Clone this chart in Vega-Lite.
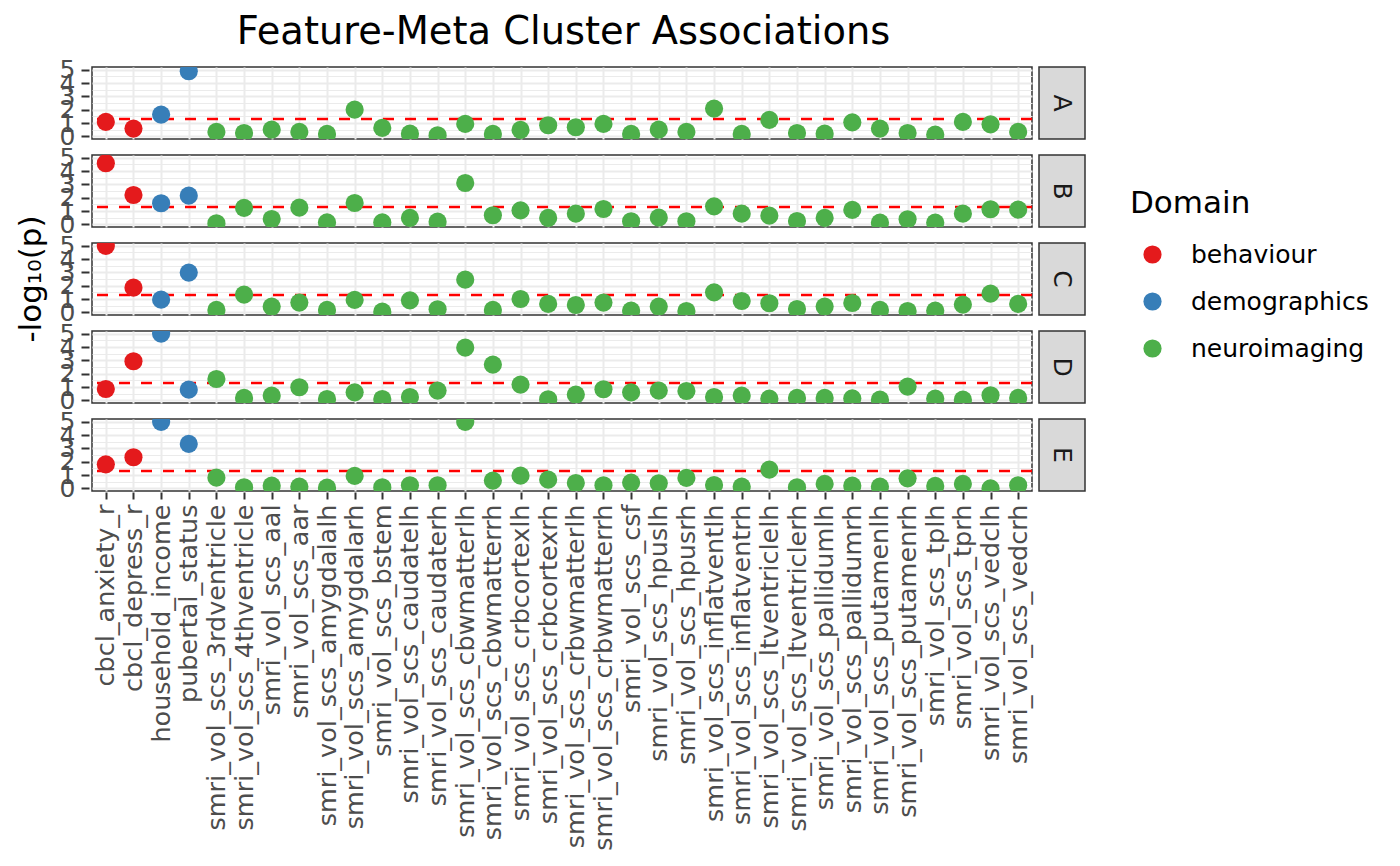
{
"$schema": "https://vega.github.io/schema/vega-lite/v6.json",
"padding": {"left": 15, "top": 13, "right": 5, "bottom": 5},
"background": "white",
"title": {"text": "Feature-Meta Cluster Associations", "fontSize": 38.4, "font": "DejaVu Sans", "fontWeight": "normal", "color": "#000000", "anchor": "middle", "offset": 5, "dx": -129},
"config": {
  "font": "DejaVu Sans",
  "view": {"stroke": "#333333", "strokeWidth": 1.5}
},
"datasets": {
"strips": [{"cluster":"A"},{"cluster":"B"},{"cluster":"C"},{"cluster":"D"},{"cluster":"E"}],
"assoc": [
{"cluster":"A","feature":"cbcl_anxiety_r","domain":"behaviour","value":1.08},
{"cluster":"A","feature":"cbcl_depress_r","domain":"behaviour","value":0.58},
{"cluster":"A","feature":"household_income","domain":"demographics","value":1.63},
{"cluster":"A","feature":"pubertal_status","domain":"demographics","value":4.88},
{"cluster":"A","feature":"smri_vol_scs_3rdventricle","domain":"neuroimaging","value":0.33},
{"cluster":"A","feature":"smri_vol_scs_4thventricle","domain":"neuroimaging","value":0.25},
{"cluster":"A","feature":"smri_vol_scs_aal","domain":"neuroimaging","value":0.5},
{"cluster":"A","feature":"smri_vol_scs_aar","domain":"neuroimaging","value":0.33},
{"cluster":"A","feature":"smri_vol_scs_amygdalalh","domain":"neuroimaging","value":0.18},
{"cluster":"A","feature":"smri_vol_scs_amygdalarh","domain":"neuroimaging","value":2.0},
{"cluster":"A","feature":"smri_vol_scs_bstem","domain":"neuroimaging","value":0.63},
{"cluster":"A","feature":"smri_vol_scs_caudatelh","domain":"neuroimaging","value":0.2},
{"cluster":"A","feature":"smri_vol_scs_caudaterh","domain":"neuroimaging","value":0.08},
{"cluster":"A","feature":"smri_vol_scs_cbwmatterlh","domain":"neuroimaging","value":0.93},
{"cluster":"A","feature":"smri_vol_scs_cbwmatterrh","domain":"neuroimaging","value":0.18},
{"cluster":"A","feature":"smri_vol_scs_crbcortexlh","domain":"neuroimaging","value":0.48},
{"cluster":"A","feature":"smri_vol_scs_crbcortexrh","domain":"neuroimaging","value":0.83},
{"cluster":"A","feature":"smri_vol_scs_crbwmatterlh","domain":"neuroimaging","value":0.68},
{"cluster":"A","feature":"smri_vol_scs_crbwmatterrh","domain":"neuroimaging","value":0.93},
{"cluster":"A","feature":"smri_vol_scs_csf","domain":"neuroimaging","value":0.18},
{"cluster":"A","feature":"smri_vol_scs_hpuslh","domain":"neuroimaging","value":0.5},
{"cluster":"A","feature":"smri_vol_scs_hpusrh","domain":"neuroimaging","value":0.33},
{"cluster":"A","feature":"smri_vol_scs_inflatventlh","domain":"neuroimaging","value":2.08},
{"cluster":"A","feature":"smri_vol_scs_inflatventrh","domain":"neuroimaging","value":0.18},
{"cluster":"A","feature":"smri_vol_scs_ltventriclelh","domain":"neuroimaging","value":1.23},
{"cluster":"A","feature":"smri_vol_scs_ltventriclerh","domain":"neuroimaging","value":0.25},
{"cluster":"A","feature":"smri_vol_scs_pallidumlh","domain":"neuroimaging","value":0.2},
{"cluster":"A","feature":"smri_vol_scs_pallidumrh","domain":"neuroimaging","value":1.05},
{"cluster":"A","feature":"smri_vol_scs_putamenlh","domain":"neuroimaging","value":0.58},
{"cluster":"A","feature":"smri_vol_scs_putamenrh","domain":"neuroimaging","value":0.25},
{"cluster":"A","feature":"smri_vol_scs_tplh","domain":"neuroimaging","value":0.13},
{"cluster":"A","feature":"smri_vol_scs_tprh","domain":"neuroimaging","value":1.08},
{"cluster":"A","feature":"smri_vol_scs_vedclh","domain":"neuroimaging","value":0.9},
{"cluster":"A","feature":"smri_vol_scs_vedcrh","domain":"neuroimaging","value":0.33},
{"cluster":"B","feature":"cbcl_anxiety_r","domain":"behaviour","value":4.58},
{"cluster":"B","feature":"cbcl_depress_r","domain":"behaviour","value":2.2},
{"cluster":"B","feature":"household_income","domain":"demographics","value":1.58},
{"cluster":"B","feature":"pubertal_status","domain":"demographics","value":2.15},
{"cluster":"B","feature":"smri_vol_scs_3rdventricle","domain":"neuroimaging","value":0.08},
{"cluster":"B","feature":"smri_vol_scs_4thventricle","domain":"neuroimaging","value":1.23},
{"cluster":"B","feature":"smri_vol_scs_aal","domain":"neuroimaging","value":0.4},
{"cluster":"B","feature":"smri_vol_scs_aar","domain":"neuroimaging","value":1.25},
{"cluster":"B","feature":"smri_vol_scs_amygdalalh","domain":"neuroimaging","value":0.15},
{"cluster":"B","feature":"smri_vol_scs_amygdalarh","domain":"neuroimaging","value":1.6},
{"cluster":"B","feature":"smri_vol_scs_bstem","domain":"neuroimaging","value":0.15},
{"cluster":"B","feature":"smri_vol_scs_caudatelh","domain":"neuroimaging","value":0.48},
{"cluster":"B","feature":"smri_vol_scs_caudaterh","domain":"neuroimaging","value":0.2},
{"cluster":"B","feature":"smri_vol_scs_cbwmatterlh","domain":"neuroimaging","value":3.1},
{"cluster":"B","feature":"smri_vol_scs_cbwmatterrh","domain":"neuroimaging","value":0.68},
{"cluster":"B","feature":"smri_vol_scs_crbcortexlh","domain":"neuroimaging","value":1.05},
{"cluster":"B","feature":"smri_vol_scs_crbcortexrh","domain":"neuroimaging","value":0.48},
{"cluster":"B","feature":"smri_vol_scs_crbwmatterlh","domain":"neuroimaging","value":0.8},
{"cluster":"B","feature":"smri_vol_scs_crbwmatterrh","domain":"neuroimaging","value":1.15},
{"cluster":"B","feature":"smri_vol_scs_csf","domain":"neuroimaging","value":0.23},
{"cluster":"B","feature":"smri_vol_scs_hpuslh","domain":"neuroimaging","value":0.5},
{"cluster":"B","feature":"smri_vol_scs_hpusrh","domain":"neuroimaging","value":0.23},
{"cluster":"B","feature":"smri_vol_scs_inflatventlh","domain":"neuroimaging","value":1.35},
{"cluster":"B","feature":"smri_vol_scs_inflatventrh","domain":"neuroimaging","value":0.8},
{"cluster":"B","feature":"smri_vol_scs_ltventriclelh","domain":"neuroimaging","value":0.65},
{"cluster":"B","feature":"smri_vol_scs_ltventriclerh","domain":"neuroimaging","value":0.25},
{"cluster":"B","feature":"smri_vol_scs_pallidumlh","domain":"neuroimaging","value":0.48},
{"cluster":"B","feature":"smri_vol_scs_pallidumrh","domain":"neuroimaging","value":1.08},
{"cluster":"B","feature":"smri_vol_scs_putamenlh","domain":"neuroimaging","value":0.13},
{"cluster":"B","feature":"smri_vol_scs_putamenrh","domain":"neuroimaging","value":0.38},
{"cluster":"B","feature":"smri_vol_scs_tplh","domain":"neuroimaging","value":0.13},
{"cluster":"B","feature":"smri_vol_scs_tprh","domain":"neuroimaging","value":0.8},
{"cluster":"B","feature":"smri_vol_scs_vedclh","domain":"neuroimaging","value":1.13},
{"cluster":"B","feature":"smri_vol_scs_vedcrh","domain":"neuroimaging","value":1.1},
{"cluster":"C","feature":"cbcl_anxiety_r","domain":"behaviour","value":4.98},
{"cluster":"C","feature":"cbcl_depress_r","domain":"behaviour","value":1.85},
{"cluster":"C","feature":"household_income","domain":"demographics","value":0.95},
{"cluster":"C","feature":"pubertal_status","domain":"demographics","value":2.98},
{"cluster":"C","feature":"smri_vol_scs_3rdventricle","domain":"neuroimaging","value":0.18},
{"cluster":"C","feature":"smri_vol_scs_4thventricle","domain":"neuroimaging","value":1.33},
{"cluster":"C","feature":"smri_vol_scs_aal","domain":"neuroimaging","value":0.43},
{"cluster":"C","feature":"smri_vol_scs_aar","domain":"neuroimaging","value":0.73},
{"cluster":"C","feature":"smri_vol_scs_amygdalalh","domain":"neuroimaging","value":0.18},
{"cluster":"C","feature":"smri_vol_scs_amygdalarh","domain":"neuroimaging","value":0.93},
{"cluster":"C","feature":"smri_vol_scs_bstem","domain":"neuroimaging","value":0.05},
{"cluster":"C","feature":"smri_vol_scs_caudatelh","domain":"neuroimaging","value":0.9},
{"cluster":"C","feature":"smri_vol_scs_caudaterh","domain":"neuroimaging","value":0.23},
{"cluster":"C","feature":"smri_vol_scs_cbwmatterlh","domain":"neuroimaging","value":2.45},
{"cluster":"C","feature":"smri_vol_scs_cbwmatterrh","domain":"neuroimaging","value":0.18},
{"cluster":"C","feature":"smri_vol_scs_crbcortexlh","domain":"neuroimaging","value":1.0},
{"cluster":"C","feature":"smri_vol_scs_crbcortexrh","domain":"neuroimaging","value":0.63},
{"cluster":"C","feature":"smri_vol_scs_crbwmatterlh","domain":"neuroimaging","value":0.55},
{"cluster":"C","feature":"smri_vol_scs_crbwmatterrh","domain":"neuroimaging","value":0.73},
{"cluster":"C","feature":"smri_vol_scs_csf","domain":"neuroimaging","value":0.13},
{"cluster":"C","feature":"smri_vol_scs_hpuslh","domain":"neuroimaging","value":0.43},
{"cluster":"C","feature":"smri_vol_scs_hpusrh","domain":"neuroimaging","value":0.1},
{"cluster":"C","feature":"smri_vol_scs_inflatventlh","domain":"neuroimaging","value":1.5},
{"cluster":"C","feature":"smri_vol_scs_inflatventrh","domain":"neuroimaging","value":0.85},
{"cluster":"C","feature":"smri_vol_scs_ltventriclelh","domain":"neuroimaging","value":0.68},
{"cluster":"C","feature":"smri_vol_scs_ltventriclerh","domain":"neuroimaging","value":0.25},
{"cluster":"C","feature":"smri_vol_scs_pallidumlh","domain":"neuroimaging","value":0.43},
{"cluster":"C","feature":"smri_vol_scs_pallidumrh","domain":"neuroimaging","value":0.7},
{"cluster":"C","feature":"smri_vol_scs_putamenlh","domain":"neuroimaging","value":0.18},
{"cluster":"C","feature":"smri_vol_scs_putamenrh","domain":"neuroimaging","value":0.1},
{"cluster":"C","feature":"smri_vol_scs_tplh","domain":"neuroimaging","value":0.13},
{"cluster":"C","feature":"smri_vol_scs_tprh","domain":"neuroimaging","value":0.58},
{"cluster":"C","feature":"smri_vol_scs_vedclh","domain":"neuroimaging","value":1.4},
{"cluster":"C","feature":"smri_vol_scs_vedcrh","domain":"neuroimaging","value":0.63},
{"cluster":"D","feature":"cbcl_anxiety_r","domain":"behaviour","value":0.85},
{"cluster":"D","feature":"cbcl_depress_r","domain":"behaviour","value":2.93},
{"cluster":"D","feature":"household_income","domain":"demographics","value":5.0},
{"cluster":"D","feature":"pubertal_status","domain":"demographics","value":0.8},
{"cluster":"D","feature":"smri_vol_scs_3rdventricle","domain":"neuroimaging","value":1.6},
{"cluster":"D","feature":"smri_vol_scs_4thventricle","domain":"neuroimaging","value":0.18},
{"cluster":"D","feature":"smri_vol_scs_aal","domain":"neuroimaging","value":0.35},
{"cluster":"D","feature":"smri_vol_scs_aar","domain":"neuroimaging","value":0.98},
{"cluster":"D","feature":"smri_vol_scs_amygdalalh","domain":"neuroimaging","value":0.1},
{"cluster":"D","feature":"smri_vol_scs_amygdalarh","domain":"neuroimaging","value":0.6},
{"cluster":"D","feature":"smri_vol_scs_bstem","domain":"neuroimaging","value":0.1},
{"cluster":"D","feature":"smri_vol_scs_caudatelh","domain":"neuroimaging","value":0.25},
{"cluster":"D","feature":"smri_vol_scs_caudaterh","domain":"neuroimaging","value":0.73},
{"cluster":"D","feature":"smri_vol_scs_cbwmatterlh","domain":"neuroimaging","value":3.95},
{"cluster":"D","feature":"smri_vol_scs_cbwmatterrh","domain":"neuroimaging","value":2.68},
{"cluster":"D","feature":"smri_vol_scs_crbcortexlh","domain":"neuroimaging","value":1.18},
{"cluster":"D","feature":"smri_vol_scs_crbcortexrh","domain":"neuroimaging","value":0.08},
{"cluster":"D","feature":"smri_vol_scs_crbwmatterlh","domain":"neuroimaging","value":0.43},
{"cluster":"D","feature":"smri_vol_scs_crbwmatterrh","domain":"neuroimaging","value":0.83},
{"cluster":"D","feature":"smri_vol_scs_csf","domain":"neuroimaging","value":0.6},
{"cluster":"D","feature":"smri_vol_scs_hpuslh","domain":"neuroimaging","value":0.73},
{"cluster":"D","feature":"smri_vol_scs_hpusrh","domain":"neuroimaging","value":0.7},
{"cluster":"D","feature":"smri_vol_scs_inflatventlh","domain":"neuroimaging","value":0.25},
{"cluster":"D","feature":"smri_vol_scs_inflatventrh","domain":"neuroimaging","value":0.35},
{"cluster":"D","feature":"smri_vol_scs_ltventriclelh","domain":"neuroimaging","value":0.13},
{"cluster":"D","feature":"smri_vol_scs_ltventriclerh","domain":"neuroimaging","value":0.18},
{"cluster":"D","feature":"smri_vol_scs_pallidumlh","domain":"neuroimaging","value":0.18},
{"cluster":"D","feature":"smri_vol_scs_pallidumrh","domain":"neuroimaging","value":0.15},
{"cluster":"D","feature":"smri_vol_scs_putamenlh","domain":"neuroimaging","value":0.05},
{"cluster":"D","feature":"smri_vol_scs_putamenrh","domain":"neuroimaging","value":1.03},
{"cluster":"D","feature":"smri_vol_scs_tplh","domain":"neuroimaging","value":0.13},
{"cluster":"D","feature":"smri_vol_scs_tprh","domain":"neuroimaging","value":0.05},
{"cluster":"D","feature":"smri_vol_scs_vedclh","domain":"neuroimaging","value":0.38},
{"cluster":"D","feature":"smri_vol_scs_vedcrh","domain":"neuroimaging","value":0.18},
{"cluster":"E","feature":"cbcl_anxiety_r","domain":"behaviour","value":1.8},
{"cluster":"E","feature":"cbcl_depress_r","domain":"behaviour","value":2.33},
{"cluster":"E","feature":"household_income","domain":"demographics","value":4.98},
{"cluster":"E","feature":"pubertal_status","domain":"demographics","value":3.33},
{"cluster":"E","feature":"smri_vol_scs_3rdventricle","domain":"neuroimaging","value":0.8},
{"cluster":"E","feature":"smri_vol_scs_4thventricle","domain":"neuroimaging","value":0.08},
{"cluster":"E","feature":"smri_vol_scs_aal","domain":"neuroimaging","value":0.2},
{"cluster":"E","feature":"smri_vol_scs_aar","domain":"neuroimaging","value":0.13},
{"cluster":"E","feature":"smri_vol_scs_amygdalalh","domain":"neuroimaging","value":0.05},
{"cluster":"E","feature":"smri_vol_scs_amygdalarh","domain":"neuroimaging","value":0.93},
{"cluster":"E","feature":"smri_vol_scs_bstem","domain":"neuroimaging","value":0.08},
{"cluster":"E","feature":"smri_vol_scs_caudatelh","domain":"neuroimaging","value":0.23},
{"cluster":"E","feature":"smri_vol_scs_caudaterh","domain":"neuroimaging","value":0.23},
{"cluster":"E","feature":"smri_vol_scs_cbwmatterlh","domain":"neuroimaging","value":4.98},
{"cluster":"E","feature":"smri_vol_scs_cbwmatterrh","domain":"neuroimaging","value":0.58},
{"cluster":"E","feature":"smri_vol_scs_crbcortexlh","domain":"neuroimaging","value":0.95},
{"cluster":"E","feature":"smri_vol_scs_crbcortexrh","domain":"neuroimaging","value":0.65},
{"cluster":"E","feature":"smri_vol_scs_crbwmatterlh","domain":"neuroimaging","value":0.4},
{"cluster":"E","feature":"smri_vol_scs_crbwmatterrh","domain":"neuroimaging","value":0.23},
{"cluster":"E","feature":"smri_vol_scs_csf","domain":"neuroimaging","value":0.43},
{"cluster":"E","feature":"smri_vol_scs_hpuslh","domain":"neuroimaging","value":0.38},
{"cluster":"E","feature":"smri_vol_scs_hpusrh","domain":"neuroimaging","value":0.78},
{"cluster":"E","feature":"smri_vol_scs_inflatventlh","domain":"neuroimaging","value":0.25},
{"cluster":"E","feature":"smri_vol_scs_inflatventrh","domain":"neuroimaging","value":0.13},
{"cluster":"E","feature":"smri_vol_scs_ltventriclelh","domain":"neuroimaging","value":1.4},
{"cluster":"E","feature":"smri_vol_scs_ltventriclerh","domain":"neuroimaging","value":0.08},
{"cluster":"E","feature":"smri_vol_scs_pallidumlh","domain":"neuroimaging","value":0.33},
{"cluster":"E","feature":"smri_vol_scs_pallidumrh","domain":"neuroimaging","value":0.2},
{"cluster":"E","feature":"smri_vol_scs_putamenlh","domain":"neuroimaging","value":0.13},
{"cluster":"E","feature":"smri_vol_scs_putamenrh","domain":"neuroimaging","value":0.75},
{"cluster":"E","feature":"smri_vol_scs_tplh","domain":"neuroimaging","value":0.18},
{"cluster":"E","feature":"smri_vol_scs_tprh","domain":"neuroimaging","value":0.33},
{"cluster":"E","feature":"smri_vol_scs_vedclh","domain":"neuroimaging","value":0.0},
{"cluster":"E","feature":"smri_vol_scs_vedcrh","domain":"neuroimaging","value":0.23}
]
},
"hconcat": [
{
  "data": {"name": "assoc"},
  "facet": {"row": {"field": "cluster", "type": "nominal", "header": {"title": "-log₁₀(p)", "titleOrient": "left", "titleFontSize": 31, "titleFont": "DejaVu Sans", "titleFontWeight": "normal", "titleColor": "#000000", "labels": false, "titlePadding": 1}}},
  "spacing": {"row": 14},
  "spec": {
    "width": 940,
    "height": 72,
    "layer": [
      {
        "transform": [{"aggregate": [{"op": "count", "as": "n"}], "groupby": ["cluster"]}],
        "mark": {"type": "rule", "color": "#FF0000", "strokeWidth": 2.7, "strokeDash": [11, 11]},
        "encoding": {"y": {"datum": 1.30103, "type": "quantitative", "title": null, "scale": {"domain": [-0.2, 5.2], "nice": false, "zero": false},
            "axis": {"values": [0, 0.5, 1, 1.5, 2, 2.5, 3, 3.5, 4, 4.5, 5], "domain": false, "grid": true, "gridColor": "#EBEBEB",
              "gridWidth": {"condition": {"test": "datum.value % 1 === 0", "value": 2}, "value": 1},
              "tickSize": 8, "tickWidth": 2, "tickColor": "#333333",
              "tickOpacity": {"condition": {"test": "datum.value % 1 === 0", "value": 1}, "value": 0},
              "labelExpr": "datum.value % 1 === 0 ? format(datum.value, 'd') : ''",
              "labelFontSize": 25, "labelColor": "#4D4D4D", "labelPadding": 6, "labelOverlap": false, "labelFont": "DejaVu Sans"}}}
      },
      {
        "mark": {"type": "circle", "size": 330, "opacity": 1, "clip": true},
        "encoding": {
          "x": {"field": "feature", "type": "nominal", "title": null, "scale": {"padding": 0.5},
            "axis": {"domain": false, "grid": true, "gridColor": "#EBEBEB", "gridWidth": 2, "tickSize": 7, "tickWidth": 2, "tickColor": "#333333", "labelAngle": -90, "labelAlign": "right", "labelBaseline": "middle", "labelFontSize": 25.5, "labelColor": "#4D4D4D", "labelPadding": 5, "labelOverlap": false, "labelLimit": 0, "labelFont": "DejaVu Sans"}},
          "y": {"field": "value", "type": "quantitative", "title": null, "scale": {"domain": [-0.2, 5.2], "nice": false, "zero": false},
            "axis": {"values": [0, 0.5, 1, 1.5, 2, 2.5, 3, 3.5, 4, 4.5, 5], "domain": false, "grid": true, "gridColor": "#EBEBEB",
              "gridWidth": {"condition": {"test": "datum.value % 1 === 0", "value": 2}, "value": 1},
              "tickSize": 8, "tickWidth": 2, "tickColor": "#333333",
              "tickOpacity": {"condition": {"test": "datum.value % 1 === 0", "value": 1}, "value": 0},
              "labelExpr": "datum.value % 1 === 0 ? format(datum.value, 'd') : ''",
              "labelFontSize": 25, "labelColor": "#4D4D4D", "labelPadding": 6, "labelOverlap": false, "labelFont": "DejaVu Sans"}},
          "color": {"field": "domain", "type": "nominal",
            "scale": {"domain": ["behaviour", "demographics", "neuroimaging"], "range": ["#E41A1C", "#377EB8", "#4DAF4A"]},
            "legend": {"title": "Domain", "orient": "none", "legendX": 1038, "legendY": 122, "padding": 0,
              "titleFontSize": 31, "titleFontWeight": "normal", "titleColor": "#000000", "titleFont": "DejaVu Sans", "titlePadding": 22,
              "labelFontSize": 25, "labelColor": "#000000", "labelFont": "DejaVu Sans", "labelOffset": 26, "labelLimit": 0,
              "symbolType": "circle", "symbolSize": 330, "symbolStrokeWidth": 0, "symbolOpacity": 1, "symbolOffset": 10, "rowPadding": 21}}
        }
      }
    ]
  }
},
{
  "data": {"name": "strips"},
  "facet": {"row": {"field": "cluster", "type": "nominal", "header": {"title": null, "labels": false}}},
  "spacing": {"row": 14},
  "spec": {
    "width": 46,
    "height": 72,
    "view": {"fill": "#D9D9D9", "stroke": "#333333", "strokeWidth": 1.5},
    "mark": {"type": "text", "angle": 90, "fontSize": 25, "color": "#1A1A1A", "align": "center", "baseline": "middle", "font": "DejaVu Sans"},
    "encoding": {"text": {"field": "cluster", "type": "nominal"}}
  }
}
],
"spacing": 3
}
